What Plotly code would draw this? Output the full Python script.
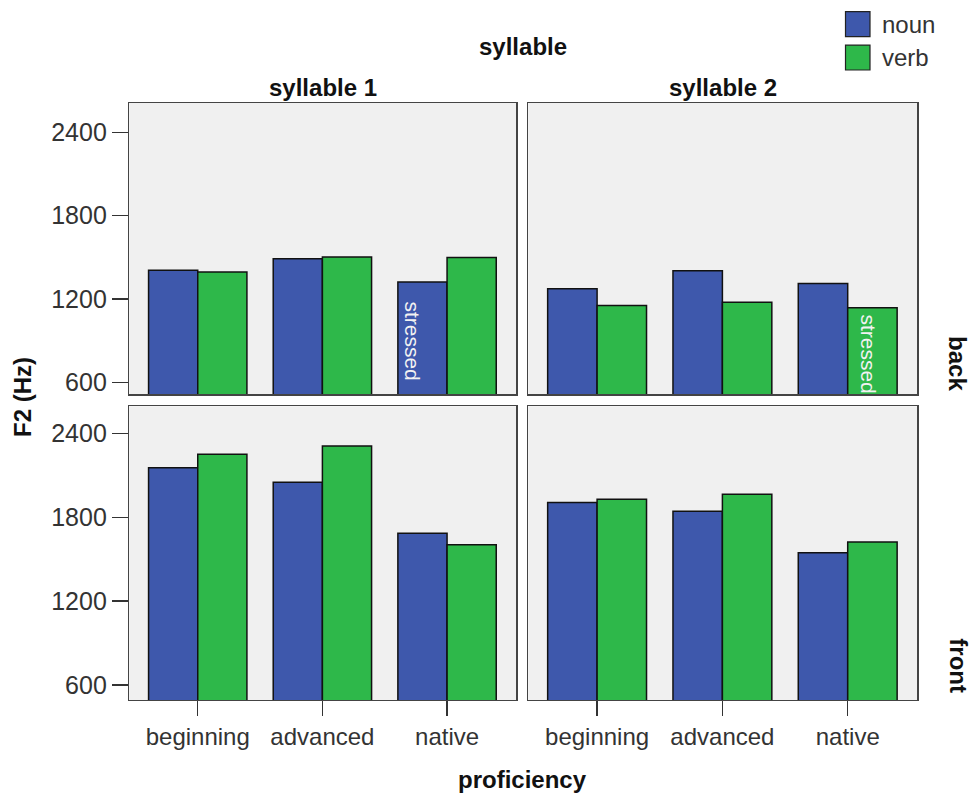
import plotly.graph_objects as go

categories = ["beginning", "advanced", "native"]
series = ["noun", "verb"]

noun_s1_back = [1407, 1491, 1324]
verb_s1_back = [1396, 1503, 1500]
noun_s2_back = [1274, 1405, 1312]
verb_s2_back = [1154, 1178, 1138]
noun_s1_front = [2155, 2051, 1687]
verb_s1_front = [2253, 2312, 1604]
noun_s2_front = [1906, 1844, 1547]
verb_s2_front = [1930, 1965, 1623]

y_ticks = [600, 1200, 1800, 2400]

W, H = 971, 796
NOUN = "#3e58ac"
VERB = "#2eb84a"
PANEL_BG = "#f0f0f0"
FONT = "Liberation Sans, Arial, sans-serif"


def px_x(p):
    return p / W


def px_y(p):
    return 1 - p / H


panels = [
    ("", noun_s1_back, verb_s1_back, (129.3, 516), (103.3, 395.3), (516, 2610)),
    ("2", noun_s2_back, verb_s2_back, (528.3, 917), (103.3, 395.3), (516, 2610)),
    ("3", noun_s1_front, verb_s1_front, (129.3, 516), (407.3, 701.7), (492, 2596)),
    ("4", noun_s2_front, verb_s2_front, (528.3, 917), (407.3, 701.7), (492, 2596)),
]

fig = go.Figure()
layout = {}
for i, (sfx, nv, vv, xd, yd, yr) in enumerate(panels):
    xa = "x" + sfx
    ya = "y" + sfx
    fig.add_trace(go.Bar(x=categories, y=nv, name="noun", marker=dict(color=NOUN, line=dict(color="#111111", width=1.5)),
                         xaxis=xa, yaxis=ya, showlegend=False))
    fig.add_trace(go.Bar(x=categories, y=vv, name="verb", marker=dict(color=VERB, line=dict(color="#111111", width=1.5)),
                         xaxis=xa, yaxis=ya, showlegend=False))
    left = i in (0, 2)
    bottom = i in (2, 3)
    layout["xaxis" + sfx] = dict(
        domain=[px_x(xd[0]), px_x(xd[1])], anchor=ya, type="category",
        range=[-0.549, 2.553], showgrid=False, zeroline=False,
        showline=True, linecolor="#444444", linewidth=1.5, mirror=True,
        ticks="outside" if bottom else "", ticklen=15, tickwidth=1.5, tickcolor="#333333",
        showticklabels=bottom, tickfont=dict(family=FONT, size=24, color="#333333"),
        fixedrange=True,
    )
    layout["yaxis" + sfx] = dict(
        domain=[px_y(yd[1]), px_y(yd[0])], anchor=xa, range=list(yr),
        tickvals=y_ticks, showgrid=False, zeroline=False,
        showline=True, linecolor="#444444", linewidth=1.5, mirror=True,
        ticks="outside" if left else "", ticklen=16, tickwidth=1.5, tickcolor="#333333",
        showticklabels=left, tickfont=dict(family=FONT, size=25, color="#333333"),
        fixedrange=True,
    )

shapes = []
annotations = []
for i, (sfx, nv, vv, xd, yd, yr) in enumerate(panels):
    shapes.append(dict(type="rect", xref="paper", yref="paper",
                       x0=px_x(xd[0]), x1=px_x(xd[1]), y0=px_y(yd[1]), y1=px_y(yd[0]),
                       fillcolor=PANEL_BG, line=dict(width=0), layer="below"))

for j, (name, col) in enumerate([("noun", NOUN), ("verb", VERB)]):
    top = 11.7 + j * 33.5
    shapes.append(dict(type="rect", xref="paper", yref="paper",
                       x0=px_x(845.5), x1=px_x(870), y0=px_y(top + 25), y1=px_y(top),
                       fillcolor=col, line=dict(color="#222222", width=1.2)))
    annotations.append(dict(text=name, xref="paper", yref="paper", x=px_x(880), y=px_y(top + 12.5),
                            xanchor="left", yanchor="middle", showarrow=False,
                            font=dict(family=FONT, size=24, color="#333333")))

bold = dict(family=FONT, size=24, color="#111111")
annotations += [
    dict(text="<b>syllable</b>", xref="paper", yref="paper", x=px_x(523), y=px_y(47),
         xanchor="center", yanchor="middle", showarrow=False, font=bold),
    dict(text="<b>syllable 1</b>", xref="paper", yref="paper", x=px_x(322.5), y=px_y(88),
         xanchor="center", yanchor="middle", showarrow=False, font=bold),
    dict(text="<b>syllable 2</b>", xref="paper", yref="paper", x=px_x(722.5), y=px_y(88),
         xanchor="center", yanchor="middle", showarrow=False, font=bold),
    dict(text="<b>proficiency</b>", xref="paper", yref="paper", x=px_x(522), y=px_y(781),
         xanchor="center", yanchor="middle", showarrow=False, font=bold),
    dict(text="<b>F2 (Hz)</b>", xref="paper", yref="paper", x=px_x(22), y=px_y(398),
         xanchor="center", yanchor="middle", showarrow=False, font=bold, textangle=-90),
    dict(text="<b>back</b>", xref="paper", yref="paper", x=px_x(958), y=px_y(364),
         xanchor="center", yanchor="middle", showarrow=False, font=bold, textangle=90),
    dict(text="<b>front</b>", xref="paper", yref="paper", x=px_x(959), y=px_y(667),
         xanchor="center", yanchor="middle", showarrow=False, font=bold, textangle=90),
    dict(text="stressed", xref="x", yref="y", x="native", y=903, xshift=-35,
         xanchor="center", yanchor="middle", showarrow=False, textangle=90,
         font=dict(family=FONT, size=21, color="#f2f2f2")),
    dict(text="stressed", xref="x2", yref="y2", x="native", y=805, xshift=21,
         xanchor="center", yanchor="middle", showarrow=False, textangle=90,
         font=dict(family=FONT, size=21, color="#f2f2f2")),
]

fig.update_layout(
    width=W, height=H, margin=dict(l=0, r=0, t=0, b=0),
    paper_bgcolor="white", plot_bgcolor="rgba(0,0,0,0)",
    barmode="group", bargap=0.211, bargroupgap=0,
    showlegend=False, shapes=shapes, annotations=annotations,
    font=dict(family=FONT), hovermode=False, **layout,
)

fig.write_html("out.html", config={"displayModeBar": False, "staticPlot": True},
               post_script="document.body.style.margin='0';document.body.style.overflow='hidden';")
